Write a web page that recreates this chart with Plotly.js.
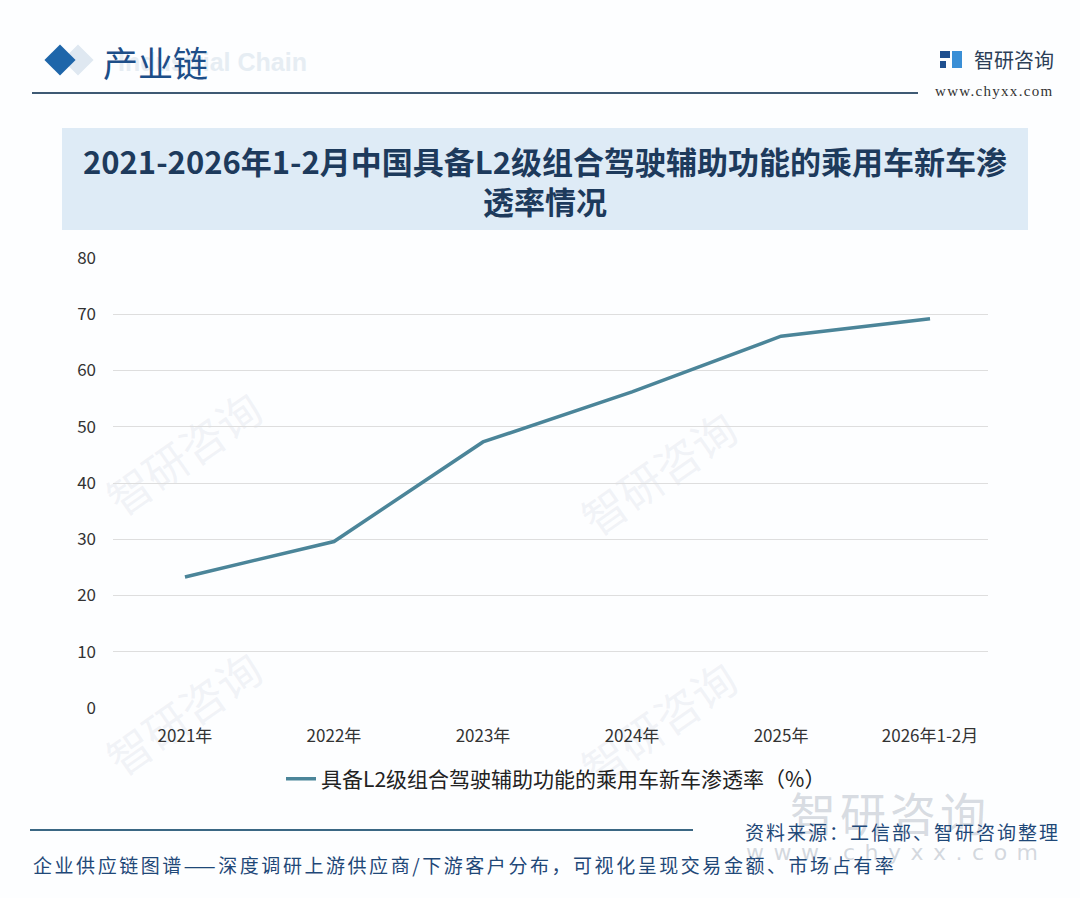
<!DOCTYPE html>
<html>
<head>
<meta charset="utf-8">
<script src="https://cdn.plot.ly/plotly-3.0.1.min.js"></script>
<style>
  html, body { margin:0; padding:0; background:#ffffff; }
  #wrap { position:relative; width:1080px; height:898px; overflow:hidden; background:#fdfeff;
          font-family:"Noto Sans CJK SC","Noto Sans",sans-serif; }
  .abs { position:absolute; white-space:nowrap; }
  #chart { position:absolute; left:0; top:0; width:1080px; height:898px; z-index:2; }
  .wm { position:absolute; color:rgba(190,200,215,0.2); font-size:44px; transform:rotate(-35deg); z-index:1; white-space:nowrap; }
</style>
</head>
<body>
<div id="wrap">
  <!-- faint watermarks -->
  <div class="wm" style="left:95px;top:420px;">智研咨询</div>
  <div class="wm" style="left:570px;top:440px;">智研咨询</div>
  <div class="wm" style="left:95px;top:680px;">智研咨询</div>
  <div class="wm" style="left:570px;top:690px;">智研咨询</div>

  <!-- header -->
  <div class="abs" style="left:67px;top:49px;width:22px;height:22px;background:#dfe8f1;transform:rotate(45deg);z-index:1;"></div>
  <div class="abs" style="left:49px;top:49px;width:22px;height:22px;background:#1e66aa;transform:rotate(45deg);z-index:1;"></div>
  <div class="abs" style="left:118px;top:48px;font-size:25px;font-weight:bold;color:#e6edf3;font-family:'Liberation Sans',Arial,sans-serif;z-index:1;">Industrial Chain</div>
  <div class="abs" style="left:103px;top:38px;font-size:35px;color:#1d4e88;z-index:1;line-height:48px;">产业链</div>
  <div class="abs" style="left:32px;top:92px;width:886px;height:2px;background:#3e5a74;z-index:1;"></div>
  <!-- logo -->
  <div class="abs" style="left:940px;top:51px;width:10px;height:7px;background:#1e4f8f;z-index:1;"></div>
  <div class="abs" style="left:940px;top:61px;width:6px;height:7px;background:#1e4f8f;z-index:1;"></div>
  <div class="abs" style="left:952px;top:51px;width:10px;height:17px;background:#3a8fd6;z-index:1;"></div>
  <div class="abs" style="left:974px;top:46px;font-size:20px;color:#2c3e57;z-index:1;line-height:28px;">智研咨询</div>
  <div class="abs" style="left:935px;top:83px;font-size:15px;color:#333;font-family:'Liberation Serif','DejaVu Serif',serif;letter-spacing:1.3px;z-index:1;">www.chyxx.com</div>

  <!-- title box -->
  <div class="abs" style="left:62px;top:128px;width:966px;height:102px;background:#deebf6;z-index:1;"></div>

  <!-- footer -->
  <div class="abs" style="left:790px;top:783px;font-size:46px;color:rgba(170,178,190,0.45);letter-spacing:4px;z-index:1;line-height:56px;">智研咨询</div>
  <div class="abs" style="left:746px;top:840px;font-size:22px;color:rgba(170,178,190,0.5);letter-spacing:9.5px;font-family:'DejaVu Sans',sans-serif;z-index:1;">www.chyxx.com</div>
  <div class="abs" style="left:30px;top:829px;width:663px;height:2px;background:#3b6784;z-index:3;"></div>
  <div class="abs" style="right:20px;top:818px;font-size:19px;color:#1f4878;letter-spacing:2px;z-index:3;line-height:28px;">资料来源：工信部、智研咨询整理</div>
  <div class="abs" style="left:33px;top:851px;font-size:19px;color:#1f4878;letter-spacing:2.55px;z-index:3;line-height:28px;">企业供应链图谱——深度调研上游供应商/下游客户分布，可视化呈现交易金额、市场占有率</div>

  <div id="chart"></div>
</div>
<script>
  const categories = ["2021年", "2022年", "2023年", "2024年", "2025年", "2026年1-2月"];
  const penetration = [23.3, 29.6, 47.3, 56.2, 66.1, 69.2];
  const seriesName = "具备L2级组合驾驶辅助功能的乘用车新车渗透率（%）";
  const yTicks = [0, 10, 20, 30, 40, 50, 60, 70, 80];
  const chartTitle = "2021-2026年1-2月中国具备L2级组合驾驶辅助功能的乘用车新车渗<br>透率情况";

  const font = '"Noto Sans CJK SC","Noto Sans",sans-serif';

  const trace = {
    type: "scatter",
    mode: "lines",
    x: categories,
    y: penetration,
    name: seriesName,
    line: { color: "#4b8599", width: 3.5 },
    showlegend: true
  };

  const layout = {
    width: 1080,
    height: 898,
    margin: { l: 113, r: 92, t: 258, b: 190 },
    paper_bgcolor: "rgba(0,0,0,0)",
    plot_bgcolor: "rgba(0,0,0,0)",
    title: {
      text: chartTitle,
      font: { family: font, size: 31, color: "#1d3a5c", weight: "bold" },
      x: 545 / 1080,
      xanchor: "center",
      y: 1 - 174 / 898,
      yanchor: "middle",
      xref: "container",
      yref: "container"
    },
    xaxis: {
      type: "category",
      range: [-0.483, 5.389],
      showgrid: false,
      zeroline: false,
      showline: false,
      ticks: "",
      ticklabelstandoff: 16,
      tickfont: { family: font, size: 17, color: "#333333" }
    },
    yaxis: {
      range: [0, 80],
      tickvals: yTicks,
      ticktext: yTicks.map(String),
      showgrid: true,
      gridcolor: "#dedede",
      gridwidth: 1,
      zeroline: false,
      showline: false,
      ticks: "",
      ticklabelstandoff: 16,
      tickfont: { family: font, size: 17, color: "#333333" }
    },
    showlegend: true,
    legend: {
      orientation: "h",
      xref: "container",
      yref: "container",
      x: 281 / 1080,
      xanchor: "left",
      y: 1 - 779 / 898,
      yanchor: "middle",
      font: { family: font, size: 21, color: "#222222" },
      bgcolor: "rgba(0,0,0,0)"
    }
  };

  Plotly.newPlot("chart", [trace], layout, { staticPlot: true, displayModeBar: false });
</script>
</body>
</html>
